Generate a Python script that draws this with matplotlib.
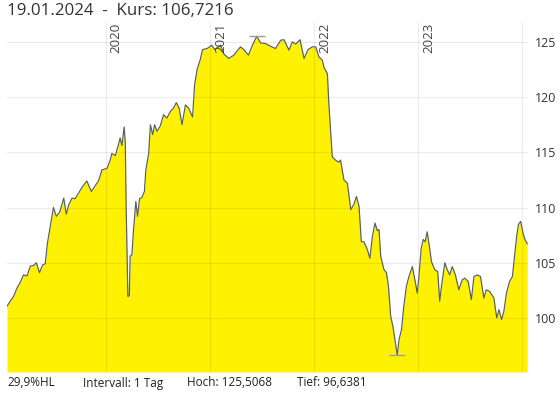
import numpy as np
import pandas as pd
import matplotlib
matplotlib.use("Agg")
import matplotlib.pyplot as plt
import matplotlib.dates as mdates

plt.rcParams['font.family'] = ['Open Sans', 'DejaVu Sans']

# daily close (approx.)
dates = [
    "2019-01-20", "2019-01-31", "2019-02-12", "2019-02-24", "2019-03-07", "2019-03-19",
    "2019-03-31", "2019-04-12", "2019-04-23", "2019-05-03", "2019-05-14", "2019-05-25",
    "2019-06-03", "2019-06-11", "2019-06-21", "2019-07-02", "2019-07-12", "2019-07-24",
    "2019-08-07", "2019-08-16", "2019-08-24", "2019-09-05", "2019-09-16", "2019-09-28",
    "2019-10-12", "2019-10-27", "2019-11-12", "2019-11-26", "2019-12-07", "2019-12-19",
    "2020-01-06", "2020-01-17", "2020-01-23", "2020-02-04", "2020-02-15", "2020-02-21",
    "2020-02-27", "2020-03-06", "2020-03-10", "2020-03-13", "2020-03-19", "2020-03-24",
    "2020-03-27", "2020-04-02", "2020-04-08", "2020-04-16", "2020-04-22", "2020-04-29",
    "2020-05-07", "2020-05-16", "2020-05-21", "2020-05-31", "2020-06-06", "2020-06-14",
    "2020-06-21", "2020-06-29", "2020-07-11", "2020-07-22", "2020-08-03", "2020-08-15",
    "2020-08-26", "2020-09-05", "2020-09-15", "2020-09-25", "2020-10-07", "2020-10-18",
    "2020-11-01", "2020-11-08", "2020-11-17", "2020-11-28", "2020-12-06", "2020-12-22",
    "2021-01-07", "2021-01-18", "2021-02-07", "2021-02-19", "2021-03-08", "2021-03-26",
    "2021-04-07", "2021-04-18", "2021-04-30", "2021-05-16", "2021-05-30", "2021-06-14",
    "2021-06-28", "2021-07-15", "2021-08-02", "2021-08-19", "2021-09-06", "2021-09-18",
    "2021-10-05", "2021-10-17", "2021-10-29", "2021-11-13", "2021-11-27", "2021-12-11",
    "2021-12-26",
    "2022-01-07", "2022-01-18", "2022-01-30", "2022-02-05", "2022-02-17", "2022-02-22",
    "2022-02-28", "2022-03-06", "2022-03-17", "2022-03-29", "2022-04-04", "2022-04-16",
    "2022-04-28", "2022-05-10", "2022-05-21", "2022-05-30", "2022-06-08", "2022-06-16",
    "2022-06-25", "2022-07-07", "2022-07-16", "2022-07-25", "2022-08-03", "2022-08-11",
    "2022-08-17", "2022-08-23", "2022-09-03", "2022-09-12", "2022-09-19", "2022-09-27",
    "2022-10-05", "2022-10-14", "2022-10-20", "2022-10-26", "2022-11-04", "2022-11-12",
    "2022-11-21", "2022-11-30", "2022-12-12", "2022-12-23", "2022-12-29",
    "2023-01-04", "2023-01-12", "2023-01-19", "2023-01-26", "2023-02-02", "2023-02-10",
    "2023-02-17", "2023-03-01", "2023-03-11", "2023-03-18", "2023-03-24", "2023-04-05",
    "2023-04-13", "2023-04-22", "2023-05-01", "2023-05-12", "2023-05-24", "2023-06-05",
    "2023-06-14", "2023-06-26", "2023-07-07", "2023-07-16", "2023-07-28", "2023-08-08",
    "2023-08-20", "2023-08-28", "2023-09-09", "2023-09-24", "2023-10-04", "2023-10-12",
    "2023-10-21", "2023-10-29", "2023-11-07", "2023-11-18", "2023-11-28", "2023-12-06",
    "2023-12-13", "2023-12-19", "2023-12-27",
    "2024-01-04", "2024-01-11", "2024-01-19",
]
kurs = [
    101.05, 101.5, 101.95, 102.7, 103.2, 103.9,
    103.8, 104.7, 104.75, 105.0, 104.1, 104.8,
    104.9, 106.8, 108.3, 110.0, 109.2, 109.6,
    110.85, 109.4, 110.2, 110.85, 110.8, 111.3,
    111.9, 112.4, 111.45, 112.0, 112.4, 113.4,
    113.55, 114.3, 114.9, 114.7, 115.7, 116.3,
    115.6, 117.3, 115.8, 110.1, 101.95, 102.0,
    105.6, 105.7, 108.0, 110.55, 109.2, 110.8,
    110.9, 111.45, 113.4, 114.9, 117.5, 116.6,
    117.5, 116.9, 117.4, 118.4, 118.1, 118.7,
    119.0, 119.5, 119.0, 117.5, 119.3, 119.0,
    118.2, 121.1, 122.5, 123.4, 124.3, 124.4,
    124.7, 124.3, 124.7, 123.9, 123.5, 123.8,
    124.2, 124.55, 124.3, 123.8, 124.7, 125.5068,
    124.9, 124.85, 124.6, 124.4, 125.15, 125.2,
    124.25, 125.0, 124.8, 125.2, 123.5, 124.3,
    124.55,
    124.55, 123.65, 123.35, 122.7, 122.1, 119.45,
    117.0, 114.6, 114.3, 114.1, 114.3, 112.5,
    112.2, 109.8, 110.3, 111.0, 110.1, 106.9,
    106.9, 106.2, 105.4, 107.4, 108.6, 107.9,
    108.0, 105.6, 104.4, 104.1, 102.9, 100.15,
    99.2, 97.7, 96.6381, 98.0, 98.95, 101.05,
    102.85, 103.75, 104.65, 103.15, 102.25,
    103.75, 106.3, 107.1, 106.9, 107.8, 106.45,
    105.1, 104.35, 104.2, 101.5, 102.85, 105.0,
    104.4, 103.9, 104.65, 103.9, 102.55, 103.45,
    103.6, 103.3, 101.65, 103.75, 103.9, 103.75,
    101.8, 102.55, 102.4, 101.8, 100.0, 100.75,
    99.85, 100.6, 102.25, 103.3, 103.75, 105.75,
    107.4, 108.45, 108.75,
    107.7, 107.1, 106.7216,
]

kurs_letzter = "106,7216"
datum_letzter = "19.01.2024"
hoch = 125.5068
tief = 96.6381
spanne = "29,9%HL"
intervall = "1 Tag"
y_ticks = [100, 105, 110, 115, 120, 125]
jahre = [2020, 2021, 2022, 2023, 2024]
jahr_labels = ["2020", "2021", "2022", "2023"]

x = pd.to_datetime(dates)
y = np.array(kurs)

fig = plt.figure(figsize=(5.6, 3.93), dpi=100)
ax = fig.add_axes([0.0125, 0.0534, 0.930, 0.8906])

y_lo, y_hi = 95.1, 126.8
ax.set_ylim(y_lo, y_hi)
ax.set_xlim(x[0], x[-1] + pd.Timedelta(days=2))

ax.fill_between(x, y, y_lo, color="#fff200", lw=0, zorder=1)
ax.plot(x, y, color="#555d68", lw=0.85, zorder=3)

# grid drawn over the fill, semi transparent
grid_kw = dict(color="black", alpha=0.075, lw=0.9, zorder=2)
for v in y_ticks:
    ax.axhline(v, **grid_kw)
for j in jahre:
    ax.axvline(pd.Timestamp(f"{j}-01-01"), **grid_kw)

for j, lab in zip(jahre, jahr_labels):
    ax.annotate(lab, xy=(pd.Timestamp(f"{j}-01-01"), 1.0), xycoords=("data", "axes fraction"),
                xytext=(3, -0.5), textcoords="offset points", rotation=90,
                ha="left", va="top", fontsize=9.5, color="#444444", zorder=5)

# high / low markers
i_hi = int(np.argmax(y))
i_lo = int(np.argmin(y))
ax.plot([x[i_hi]], [hoch], marker="_", ms=11, mew=1, color="#999999", zorder=4)
ax.plot([x[i_lo]], [tief], marker="_", ms=11, mew=1, color="#9999bb", zorder=4)

ax.yaxis.tick_right()
ax.set_yticks(y_ticks)
ax.set_yticklabels([str(v) for v in y_ticks])
ax.tick_params(axis="y", length=0, pad=5, labelsize=9, labelcolor="#333333")
ax.set_xticks([])
for s in ax.spines.values():
    s.set_visible(False)

fig.text(7 / 560, 1 - 11 / 393, f"{datum_letzter}  -  Kurs: {kurs_letzter}",
         fontsize=12.2, color="#333333", ha="left", va="center")

unten_y = 1 - 383 / 393
fig.text(7 / 560, unten_y, spanne, fontsize=8.5, color="#222222", va="center")
fig.text(83 / 560, unten_y, f"Intervall: {intervall}", fontsize=8.5, color="#222222", va="center")
fig.text(187 / 560, unten_y, f"Hoch: {hoch:.4f}".replace(".", ","), fontsize=8.5,
         color="#222222", va="center")
fig.text(297 / 560, unten_y, f"Tief: {tief:.4f}".replace(".", ","), fontsize=8.5,
         color="#222222", va="center")

fig.savefig("out.png", dpi=100)
